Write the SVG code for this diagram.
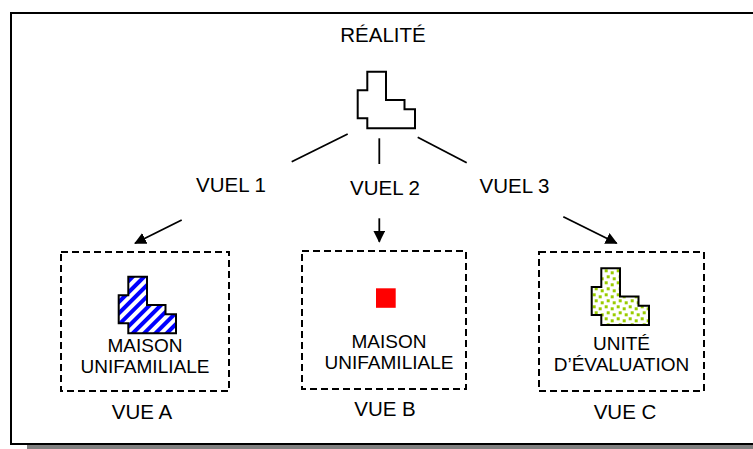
<svg xmlns="http://www.w3.org/2000/svg" width="753" height="449" viewBox="0 0 753 449">
<style>
text{font-family:"Liberation Sans",Arial,sans-serif;font-size:20.5px;fill:#000;text-anchor:middle}
.lbl{font-size:19px}
.box{fill:none;stroke:#000;stroke-width:2;stroke-dasharray:7 4}
.con{stroke:#000;stroke-width:1.8;fill:none}
.shape{stroke:#000;stroke-width:2;stroke-linejoin:miter}
</style>
<defs>
<marker id="ah" viewBox="0 0 12 12" refX="11" refY="6" markerWidth="12" markerHeight="12" markerUnits="userSpaceOnUse" orient="auto">
<path d="M0,0 L12,6 L0,12 Z" fill="#000"/>
</marker>
<pattern id="stripes" width="8" height="8" patternUnits="userSpaceOnUse" patternTransform="rotate(45)">
<rect width="8" height="8" fill="#fff"/>
<rect width="4" height="8" fill="#0000ff"/>
</pattern>
<pattern id="dots" width="12" height="12" patternUnits="userSpaceOnUse">
<rect width="12" height="12" fill="#fff"/>
<rect x="1" y="1" width="3" height="3" fill="#99cc00"/>
<rect x="7" y="3" width="3" height="3" fill="#99cc00"/>
<rect x="3" y="7" width="3" height="3" fill="#99cc00"/>
<rect x="9" y="9" width="3" height="3" fill="#99cc00"/>
</pattern>
<path id="house" d="M9.6,0 H28.3 V28.3 H46.8 V37.5 H57.3 V56.6 H9.6 V46.6 H0 V18.6 H9.6 Z"/>
</defs>
<rect x="27" y="445" width="760" height="10" fill="#808080"/>
<rect x="11" y="13" width="780" height="431" fill="#fff" stroke="#000" stroke-width="2"/>
<g id="realite">
<text x="383" y="42">RÉALITÉ</text>
<use href="#house" x="357.7" y="71.7" class="shape" fill="#fff"/>
</g>
<g id="connectors">
<line class="con" x1="347.7" y1="134" x2="291.7" y2="161.7"/>
<line class="con" x1="379.3" y1="138.3" x2="379.3" y2="164"/>
<line class="con" x1="417.7" y1="137.3" x2="466.7" y2="162.7"/>
<line class="con" x1="181.7" y1="220" x2="135" y2="243.3" marker-end="url(#ah)"/>
<line class="con" x1="379.3" y1="218.3" x2="379.3" y2="241.7" marker-end="url(#ah)"/>
<line class="con" x1="563.3" y1="216.7" x2="616.7" y2="243.3" marker-end="url(#ah)"/>
</g>
<g id="vuel1"><text x="231" y="192">VUEL 1</text></g>
<g id="vuel2"><text x="385" y="195">VUEL 2</text></g>
<g id="vuel3"><text x="514.5" y="192.7">VUEL 3</text></g>
<g id="vueA">
<rect class="box" x="61" y="252" width="168" height="139"/>
<use href="#house" x="118.7" y="276.7" class="shape" fill="url(#stripes)"/>
<text class="lbl" x="145" y="352">MAISON</text>
<text class="lbl" x="145" y="373">UNIFAMILIALE</text>
<text x="142" y="419">VUE A</text>
</g>
<g id="vueB">
<rect class="box" x="302" y="251" width="164" height="138"/>
<rect x="376" y="288.3" width="19.7" height="19.5" fill="#ff0000"/>
<text class="lbl" x="389" y="348">MAISON</text>
<text class="lbl" x="389" y="368.5">UNIFAMILIALE</text>
<text x="385" y="416">VUE B</text>
</g>
<g id="vueC">
<rect class="box" x="539" y="252" width="165" height="139"/>
<use href="#house" x="591.7" y="268.3" class="shape" fill="url(#dots)"/>
<text class="lbl" x="621.5" y="350">UNITÉ</text>
<text class="lbl" x="621.5" y="371">D’ÉVALUATION</text>
<text x="625" y="419">VUE C</text>
</g>
</svg>
